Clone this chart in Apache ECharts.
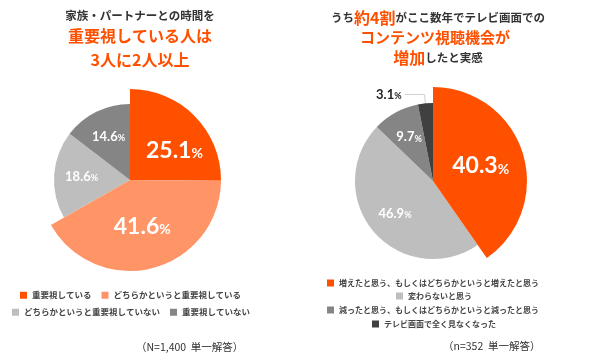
<!DOCTYPE html>
<html><head><meta charset="utf-8">
<script src="https://cdn.jsdelivr.net/npm/echarts@6/dist/echarts.min.js"></script>
<style>html,body{margin:0;padding:0;background:#fff}#c{width:590px;height:359px}</style>
</head><body><div id="c"></div>
<script>
const leftCategories = ['重要視している','どちらかというと重要視している','どちらかというと重要視していない','重要視していない'];
const leftValues = [25.1, 41.6, 18.6, 14.6];
const leftColors = ['#FF5000','#FF9466','#BEBEBE','#858585'];
const leftBig = [true, true, false, false];
const leftLabelSize = ['big','big','small','small'];

const rightCategories = ['増えたと思う、もしくはどちらかというと増えたと思う','変わらないと思う','減ったと思う、もしくはどちらかというと減ったと思う','テレビ画面で全く見なくなった'];
const rightValues = [40.3, 46.9, 9.7, 3.1];
const rightColors = ['#FF5000','#BEBEBE','#858585','#404040'];
const rightBig = [true, false, false, false];
const rightLabelSize = ['big','small','small','outside'];

const FONT = 'Lato, "Noto Sans", sans-serif';
const JP = '"Noto Sans CJK JP", sans-serif';

const rich = {
  vb: {fontFamily: FONT, fontWeight: 'bold', fontSize: 23, color: '#fff'},
  pb: {fontFamily: FONT, fontWeight: 'bold', fontSize: 14, color: '#fff', padding:[6,0,0,0]},
  vs: {fontFamily: FONT, fontWeight: 'bold', fontSize: 13, color: '#fff'},
  ps: {fontFamily: FONT, fontWeight: 'bold', fontSize: 9, color: '#fff', padding:[3,0,0,0]},
  vo: {fontFamily: FONT, fontWeight: 'bold', fontSize: 13, color: '#222'},
  po: {fontFamily: FONT, fontWeight: 'bold', fontSize: 9, color: '#222', padding:[3,0,0,0]}
};

function labelFor(kind, v, idx) {
  if (kind === 'big') {
    const l = {show: true, position: 'inside', formatter: '{vb|' + v.toFixed(1) + '}{pb|%}', rich};
    if (idx === 0) l.offset = [10, 5];
    return l;
  }
  if (kind === 'small') return {show: true, position: 'inside', formatter: '{vs|' + v.toFixed(1) + '}{ps|%}', rich};
  return {show: false};
}

function makePie(cats, vals, colors, big, kinds, center, rBig, rSmall, bigOffsetFirst) {
  const outer = cats.map((n, i) => ({
    name: n, value: vals[i],
    itemStyle: {color: big[i] ? colors[i] : 'rgba(0,0,0,0)'},
    label: labelFor(kinds[i], vals[i], bigOffsetFirst ? i : -1),
    labelLine: {show: false}
  }));
  const inner = cats.map((n, i) => {
    const d = {name: n, value: vals[i], itemStyle: {color: big[i] ? 'rgba(0,0,0,0)' : colors[i]},
      label: {show: false}, labelLine: {show: false}};
    if (kinds[i] === 'outside') {
      d.label = {show: true, position: 'outside', formatter: '{vo|' + vals[i].toFixed(1) + '}{po|%}', rich, distanceToLabelLine: 3};
      d.labelLine = {show: true, length: 9, length2: 20, lineStyle: {color: '#d0d0d0', width: 1}};
    }
    return d;
  });
  const common = {type: 'pie', center, startAngle: 90, clockwise: true, animation: false,
    emphasis: {disabled: true}, silent: true, avoidLabelOverlap: false};
  return [
    Object.assign({}, common, {radius: [0, rSmall], data: inner, z: 1}),
    Object.assign({}, common, {radius: [0, rBig], data: outer, z: 2})
  ];
}

function legendItems(cats, colors, idx) {
  return idx.map(i => ({name: cats[i], itemStyle: {color: colors[i]}, icon: 'rect'}));
}
function legend(cats, colors, idx, left, top, fs) {
  return {data: legendItems(cats, colors, idx), left, top, itemWidth: 7, itemHeight: 7, itemGap: 10,
    textStyle: {fontFamily: JP, fontSize: fs, fontWeight: 'bold', color: '#444'},
    selectedMode: false, orient: 'horizontal', padding: 0};
}

const option = {
  backgroundColor: '#fff',
  title: [
    {text: '家族・パートナーとの時間を', left: 135, top: 5, textAlign: 'center',
      textStyle: {fontFamily: JP, fontSize: 11.5, fontWeight: 'bold', color: '#333'}},
    {text: '重要視している人は', left: 135, top: 23, textAlign: 'center',
      textStyle: {fontFamily: JP, fontSize: 16, fontWeight: 'bold', color: '#FF5000'}},
    {text: '3人に2人以上', left: 135, top: 47, textAlign: 'center',
      textStyle: {fontFamily: JP, fontSize: 16, fontWeight: 'bold', color: '#FF5000'}},
    {text: '{a|うち}{b|約4割}{a|がここ数年でテレビ画面での}', left: 433, top: 3, textAlign: 'center',
      textStyle: {rich: {a: {fontFamily: JP, fontSize: 11.5, fontWeight: 'bold', color: '#333', lineHeight: 20},
        b: {fontFamily: JP, fontSize: 16, fontWeight: 'bold', color: '#FF5000', lineHeight: 20}}}},
    {text: 'コンテンツ視聴機会が', left: 430, top: 25, textAlign: 'center',
      textStyle: {fontFamily: JP, fontSize: 15, fontWeight: 'bold', color: '#FF5000'}},
    {text: '{b|増加}{a|したと実感}', left: 433, top: 43, textAlign: 'center',
      textStyle: {rich: {a: {fontFamily: JP, fontSize: 11.5, fontWeight: 'bold', color: '#333', lineHeight: 20},
        b: {fontFamily: JP, fontSize: 16, fontWeight: 'bold', color: '#FF5000', lineHeight: 20}}}},
    {text: '（N=1,400  単一解答）', left: 131, top: 337,
      textStyle: {fontFamily: JP, fontSize: 10.5, fontWeight: 'normal', color: '#333'}},
    {text: '（n=352  単一解答）', left: 438, top: 336,
      textStyle: {fontFamily: JP, fontSize: 10.5, fontWeight: 'normal', color: '#333'}}
  ],
  legend: [
    legend(leftCategories, leftColors, [0, 1], 20, 291, 8.5),
    legend(leftCategories, leftColors, [2, 3], 12, 308, 8.5),
    legend(rightCategories, rightColors, [0], 327, 279, 8),
    legend(rightCategories, rightColors, [1], 396, 292, 8),
    legend(rightCategories, rightColors, [2], 327, 306, 8),
    legend(rightCategories, rightColors, [3], 372, 320, 8)
  ],
  series: [
    ...makePie(leftCategories, leftValues, leftColors, leftBig, leftLabelSize, [130, 180], 91, 76, true),
    ...makePie(rightCategories, rightValues, rightColors, rightBig, rightLabelSize, [433, 181], 94, 78, false)
  ]
};
const chart = echarts.init(document.getElementById('c'), null, {renderer: 'canvas'});
chart.setOption(option);
</script></body></html>
